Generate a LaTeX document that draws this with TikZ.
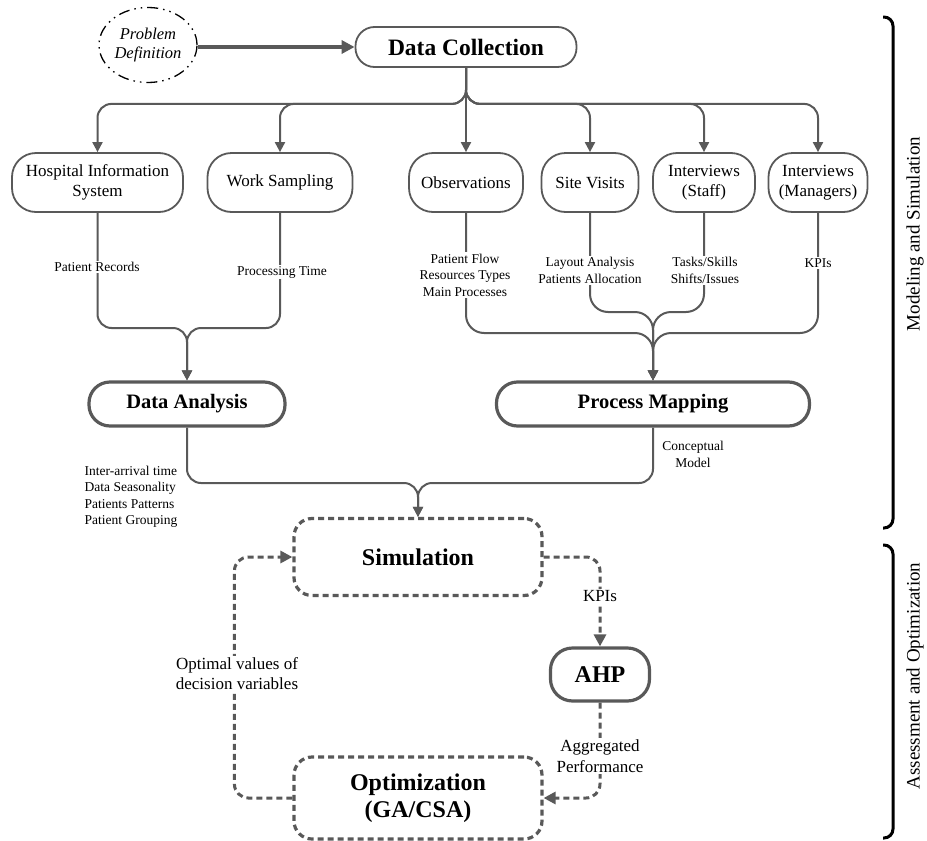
\documentclass[tikz,border=0pt]{standalone}
\usepackage{fontspec}
\setmainfont{Liberation Serif}
\usetikzlibrary{arrows.meta,shapes.geometric}

\definecolor{linegray}{HTML}{595959}

\tikzset{
  probbox/.style={ellipse, draw=black, line width=1.3pt,
    dash pattern=on 11pt off 5pt on 1.5pt off 5pt on 1.5pt off 5pt,
    minimum width=98pt, minimum height=75pt, inner sep=0pt, align=center,
    font=\fontsize{16.5}{18.5}\itshape\selectfont},
  topbox/.style={draw=linegray, line width=1.8pt, rounded corners=19pt,
    minimum height=40pt, font=\fontsize{23.5}{27}\bfseries\selectfont},
  src/.style={draw=linegray, line width=1.8pt, rounded corners=24pt,
    minimum height=59pt, align=center, font=\fontsize{17}{19.5}\selectfont},
  stage/.style={draw=linegray, line width=3.2pt, rounded corners=21pt,
    minimum height=44pt, font=\fontsize{20.5}{24}\bfseries\selectfont},
  loopbox/.style={draw=linegray, line width=3.2pt, dash pattern=on 6pt off 4pt,
    rounded corners=18pt, minimum width=248pt, align=center,
    font=\fontsize{24}{27.5}\bfseries\selectfont},
  ahpbox/.style={draw=linegray, line width=3.2pt, rounded corners=22pt,
    minimum width=99pt, minimum height=53pt, font=\fontsize{24}{27}\bfseries\selectfont},
  flow/.style={draw=linegray, line width=2pt, rounded corners=14pt,
    -{Triangle[length=10pt,width=10pt]}},
  startflow/.style={draw=linegray, line width=3.5pt,
    -{Triangle[length=13pt,width=13pt]}},
  loopflow/.style={draw=linegray, line width=3pt, dash pattern=on 6pt off 4pt,
    rounded corners=14pt, -{Triangle[length=12pt,width=12pt]}},
  lbl/.style={fill=white, inner sep=1.5pt, align=center,
    font=\fontsize{13.5}{16.5}\selectfont},
  lowlbl/.style={fill=white, inner sep=1.5pt, align=center,
    font=\fontsize{17}{20.5}\selectfont},
  brace/.style={draw=black, line width=3pt, rounded corners=9pt},
  side/.style={rotate=90, font=\fontsize{19}{22}\selectfont}
}

\begin{document}
\begin{tikzpicture}[x=1pt,y=1pt]
\useasboundingbox (0,0) rectangle (927,-841);

\node[probbox] (prob) at (148,-45) {Problem\\Definition};
\node[topbox, minimum width=221pt] (dc) at (466,-47) {Data Collection};

\node[src, minimum width=171pt] (his) at (97.5,-182.5) {Hospital Information\\System};
\node[src, minimum width=145pt] (ws) at (280,-182.5) {Work Sampling};
\node[src, minimum width=114pt] (obs) at (466,-182.5) {Observations};
\node[src, minimum width=97pt] (site) at (590,-182.5) {Site Visits};
\node[src, minimum width=102pt] (staff) at (704,-182.5) {Interviews\\(Staff)};
\node[src, minimum width=99pt] (mgr) at (818,-182.5) {Interviews\\(Managers)};

\node[stage, minimum width=196pt] (da) at (187,-404) {Data Analysis};
\node[stage, minimum width=313pt] (pm) at (653,-404) {Process Mapping};

\node[loopbox, minimum height=77pt] (sim) at (418,-557) {Simulation};
\node[ahpbox] (ahp) at (600,-674.5) {AHP};
\node[loopbox, minimum height=82pt] (opt) at (418,-798) {Optimization\\(GA/CSA)};

\coordinate (pmin) at (653,-312);
\coordinate (pmout) at (653,-333);
\coordinate (dain) at (187,-328);
\coordinate (simin) at (418,-483);

\draw[startflow] (prob.east |- dc.west) -- (dc.west);

\draw[flow] (dc.south) -- ++(0,-36) -| (his.north);
\draw[flow] (dc.south) -- ++(0,-36) -| (ws.north);
\draw[flow] (dc.south) -- (obs.north);
\draw[flow] (dc.south) -- ++(0,-36) -| (site.north);
\draw[flow] (dc.south) -- ++(0,-36) -| (staff.north);
\draw[flow] (dc.south) -- ++(0,-36) -| (mgr.north);

\draw[flow] (his.south) |- (dain) -- (da.north);
\draw[flow] (ws.south) |- (dain) -- (da.north);

\draw[flow, rounded corners=18pt] (site.south) |- (pmin) -- (pm.north);
\draw[flow, rounded corners=18pt] (staff.south) |- (pmin) -- (pm.north);
\draw[flow, rounded corners=18pt] (obs.south) |- (pmout) -- (pm.north);
\draw[flow, rounded corners=18pt] (mgr.south) |- (pmout) -- (pm.north);

\draw[flow] (da.south) |- (simin) -- (sim.north);
\draw[flow] (pm.south) |- (simin) -- (sim.north);

\node[lbl] (recs) at (97,-267) {Patient Records};
\node[lbl] (ptime) at (282,-272) {Processing Time};
\node[lbl] (flows) at (465,-275) {Patient Flow\\Resources Types\\Main Processes};
\node[lbl] (layout) at (590,-270.5) {Layout Analysis\\Patients Allocation};
\node[lbl] (tasks) at (705,-270.5) {Tasks/Skills\\Shifts/Issues};
\node[lbl] (kpitop) at (818,-263) {KPIs};
\node[lbl, align=left, fill=none, anchor=west] (stats) at (83,-497) {Inter-arrival time\\Data Seasonality\\Patients Patterns\\Patient Grouping};
\node[lbl, fill=none] (concept) at (693,-454.5) {Conceptual\\Model};

\draw[loopflow] (sim.east) -| (ahp.north);
\draw[loopflow] (ahp.south) |- (opt.east);
\draw[loopflow] (opt.west) -- ++(-58,0) |- (sim.west);

\node[lowlbl] (kpilow) at (600,-596) {KPIs};
\node[lowlbl] (aggr) at (600,-756) {Aggregated\\Performance};
\node[lowlbl] (optval) at (237,-673.5) {Optimal values of\\decision variables};

\draw[brace] (883,-17) -- (893,-17) -- (893,-528) -- (883,-528);
\draw[brace] (883,-545) -- (893,-545) -- (893,-838) -- (883,-838);
\node[side] (mslabel) at (915,-234) {Modeling and Simulation};
\node[side] (aolabel) at (915,-676) {Assessment and Optimization};
\end{tikzpicture}
\end{document}
